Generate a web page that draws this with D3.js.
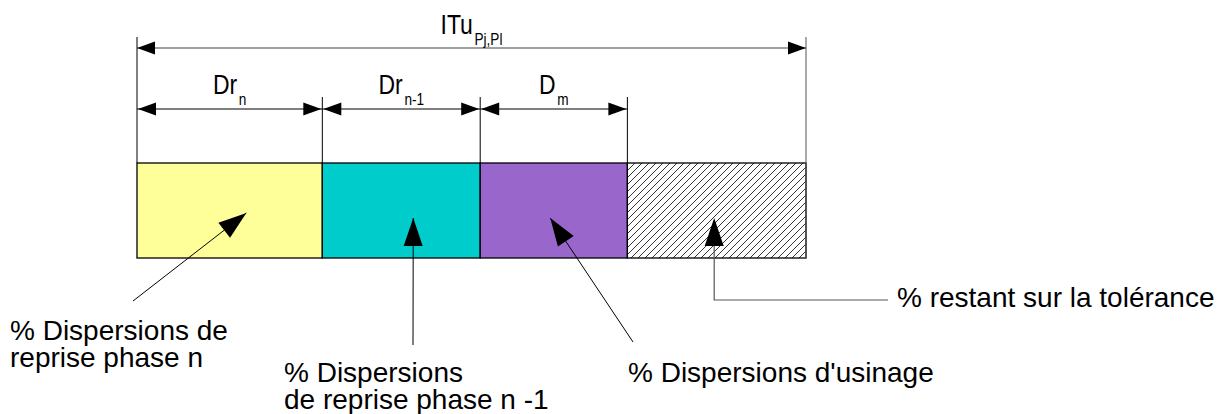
<!DOCTYPE html>
<html>
<head>
<meta charset="utf-8">
<script src="https://cdn.jsdelivr.net/npm/d3@7"></script>
<style>
  body { margin: 0; background: #fff; }
  svg { display: block; }
</style>
</head>
<body>
<div id="chart"></div>
<script>
// share of the tolerance taken by each part (percent)
const segments = ["Dr_n", "Dr_n-1", "D_m", "reste"];
const shares = [27.7, 23.6, 22.0, 26.7];
const dimMain = ["Dr", "Dr", "D", ""];
const dimSub = ["n", "n-1", "m", ""];
const totalMain = "ITu";
const totalSub = "Pj,Pl";
const callouts = [
    ["% Dispersions de", "reprise phase n"],
    ["% Dispersions", "de reprise phase n -1"],
    ["% Dispersions d'usinage"],
    ["% restant sur la tolérance"]
];

const width = 1227, height = 414;
const fills = ["#ffff99", "#00cccc", "#9966cc", "url(#hatch)"];

const svg = d3.select("#chart")
    .append("svg")
    .attr("width", width)
    .attr("height", height);

const defs = svg.append("defs");
const hs = 7;
const pat = defs.append("pattern")
    .attr("id", "hatch")
    .attr("patternUnits", "userSpaceOnUse")
    .attr("width", hs)
    .attr("height", hs);
pat.append("rect").attr("width", hs).attr("height", hs).attr("fill", "#fff");
pat.append("path")
    .attr("d", `M-1,1 l2,-2 M0,${hs} l${hs},${-hs} M${hs - 1},${hs + 1} l2,-2`)
    .attr("stroke", "#000")
    .attr("stroke-width", 0.8);

const cum = d3.cumsum(shares);
const starts = shares.map((d, i) => cum[i] - d);
const total = d3.sum(shares);
const x = d3.scaleLinear().domain([0, total]).range([137, 806]);

const barTop = 163, barBottom = 258;
const topDimY = 48, subDimY = 109;

// filled arrow head, tip at (0,0) pointing along +x
function head(g, tx, ty, angle, len, half) {
    g.append("path")
        .attr("d", `M0,0 L${-len},${-half} L${-len},${half} Z`)
        .attr("transform", `translate(${tx},${ty}) rotate(${angle})`)
        .attr("fill", "#000");
}

// bars
svg.selectAll("rect.seg")
    .data(segments)
    .enter()
    .append("rect")
    .attr("class", "seg")
    .attr("x", (_, i) => x(starts[i]))
    .attr("y", barTop)
    .attr("width", (_, i) => x(cum[i]) - x(starts[i]))
    .attr("height", barBottom - barTop)
    .attr("fill", (_, i) => fills[i])
    .attr("stroke", "#000")
    .attr("stroke-width", 1.3);

// extension lines
const ext = svg.append("g").attr("stroke", "#000").attr("stroke-width", 1);
ext.append("line").attr("x1", x(0)).attr("x2", x(0)).attr("y1", 37).attr("y2", barTop);
ext.append("line").attr("x1", x(total)).attr("x2", x(total))
    .attr("y1", 37).attr("y2", barBottom).attr("stroke", "#555");
cum.slice(0, 3).forEach(c => {
    ext.append("line").attr("x1", x(c)).attr("x2", x(c)).attr("y1", 97).attr("y2", barTop);
});

// overall dimension
const dims = svg.append("g");
dims.append("line")
    .attr("x1", x(0)).attr("x2", x(total))
    .attr("y1", topDimY).attr("y2", topDimY)
    .attr("stroke", "#444").attr("stroke-width", 1.2);
head(dims, x(0), topDimY, 180, 18, 6.5);
head(dims, x(total), topDimY, 0, 18, 6.5);

// part dimensions
shares.slice(0, 3).forEach((d, i) => {
    dims.append("line")
        .attr("x1", x(starts[i])).attr("x2", x(cum[i]))
        .attr("y1", subDimY).attr("y2", subDimY)
        .attr("stroke", "#000").attr("stroke-width", 1.2);
    head(dims, x(starts[i]) + 1, subDimY, 180, 18, 6.5);
    head(dims, x(cum[i]) - 1, subDimY, 0, 18, 6.5);
});

// dimension labels with subscripts (slightly condensed like the source)
function dimLabel(cx, y, main, sub, size, subSize) {
    const t = svg.append("text")
        .attr("transform", `translate(${cx},${y}) scale(0.85,1)`)
        .attr("text-anchor", "middle")
        .attr("font-family", "'Liberation Sans', Arial, sans-serif")
        .attr("font-size", size)
        .attr("fill", "#000");
    t.append("tspan").text(main);
    t.append("tspan")
        .attr("dx", 2)
        .attr("dy", 11)
        .attr("font-size", subSize)
        .text(sub);
}
dimLabel(x(total / 2), 34, totalMain, totalSub, 27, 16);
shares.slice(0, 3).forEach((d, i) => {
    dimLabel(x(starts[i] + d / 2), 94, dimMain[i], dimSub[i], 27, 16);
});

// callouts: tip position inside the bar (fraction of segment), leader end, text anchor
const tipFrac = [0.59, 0.576, 0.476, 0.486];
const tipY = [213, 218, 218, 218];
const leadEnd = [[133, 301], [413, 345], [633, 342], [888, 300]];
const textPos = [[10, 340], [284, 382], [628, 382], [897, 307]];
const lineGap = 27;

callouts.forEach((lines, i) => {
    const tx = x(starts[i] + shares[i] * tipFrac[i]);
    const ty = tipY[i];
    const [ex, ey] = leadEnd[i];
    const g = svg.append("g");
    if (i === 3) {
        // elbow leader
        g.append("path")
            .attr("d", `M${tx},${ty + 20} L${tx},${ey} L${ex},${ey}`)
            .attr("fill", "none").attr("stroke", "#555").attr("stroke-width", 1.2);
        head(g, tx, ty, -90, 28, 9.5);
    } else {
        const ang = Math.atan2(ty - ey, tx - ex) * 180 / Math.PI;
        g.append("line")
            .attr("x1", ex).attr("y1", ey).attr("x2", tx).attr("y2", ty)
            .attr("stroke", "#000").attr("stroke-width", 1);
        head(g, tx, ty, ang, 28, 9.5);
    }
    lines.forEach((l, j) => {
        svg.append("text")
            .attr("x", textPos[i][0])
            .attr("y", textPos[i][1] + j * lineGap)
            .attr("font-family", "'Liberation Sans', Arial, sans-serif")
            .attr("font-size", 28)
            .attr("fill", "#000")
            .text(l);
    });
});
</script>
</body>
</html>
